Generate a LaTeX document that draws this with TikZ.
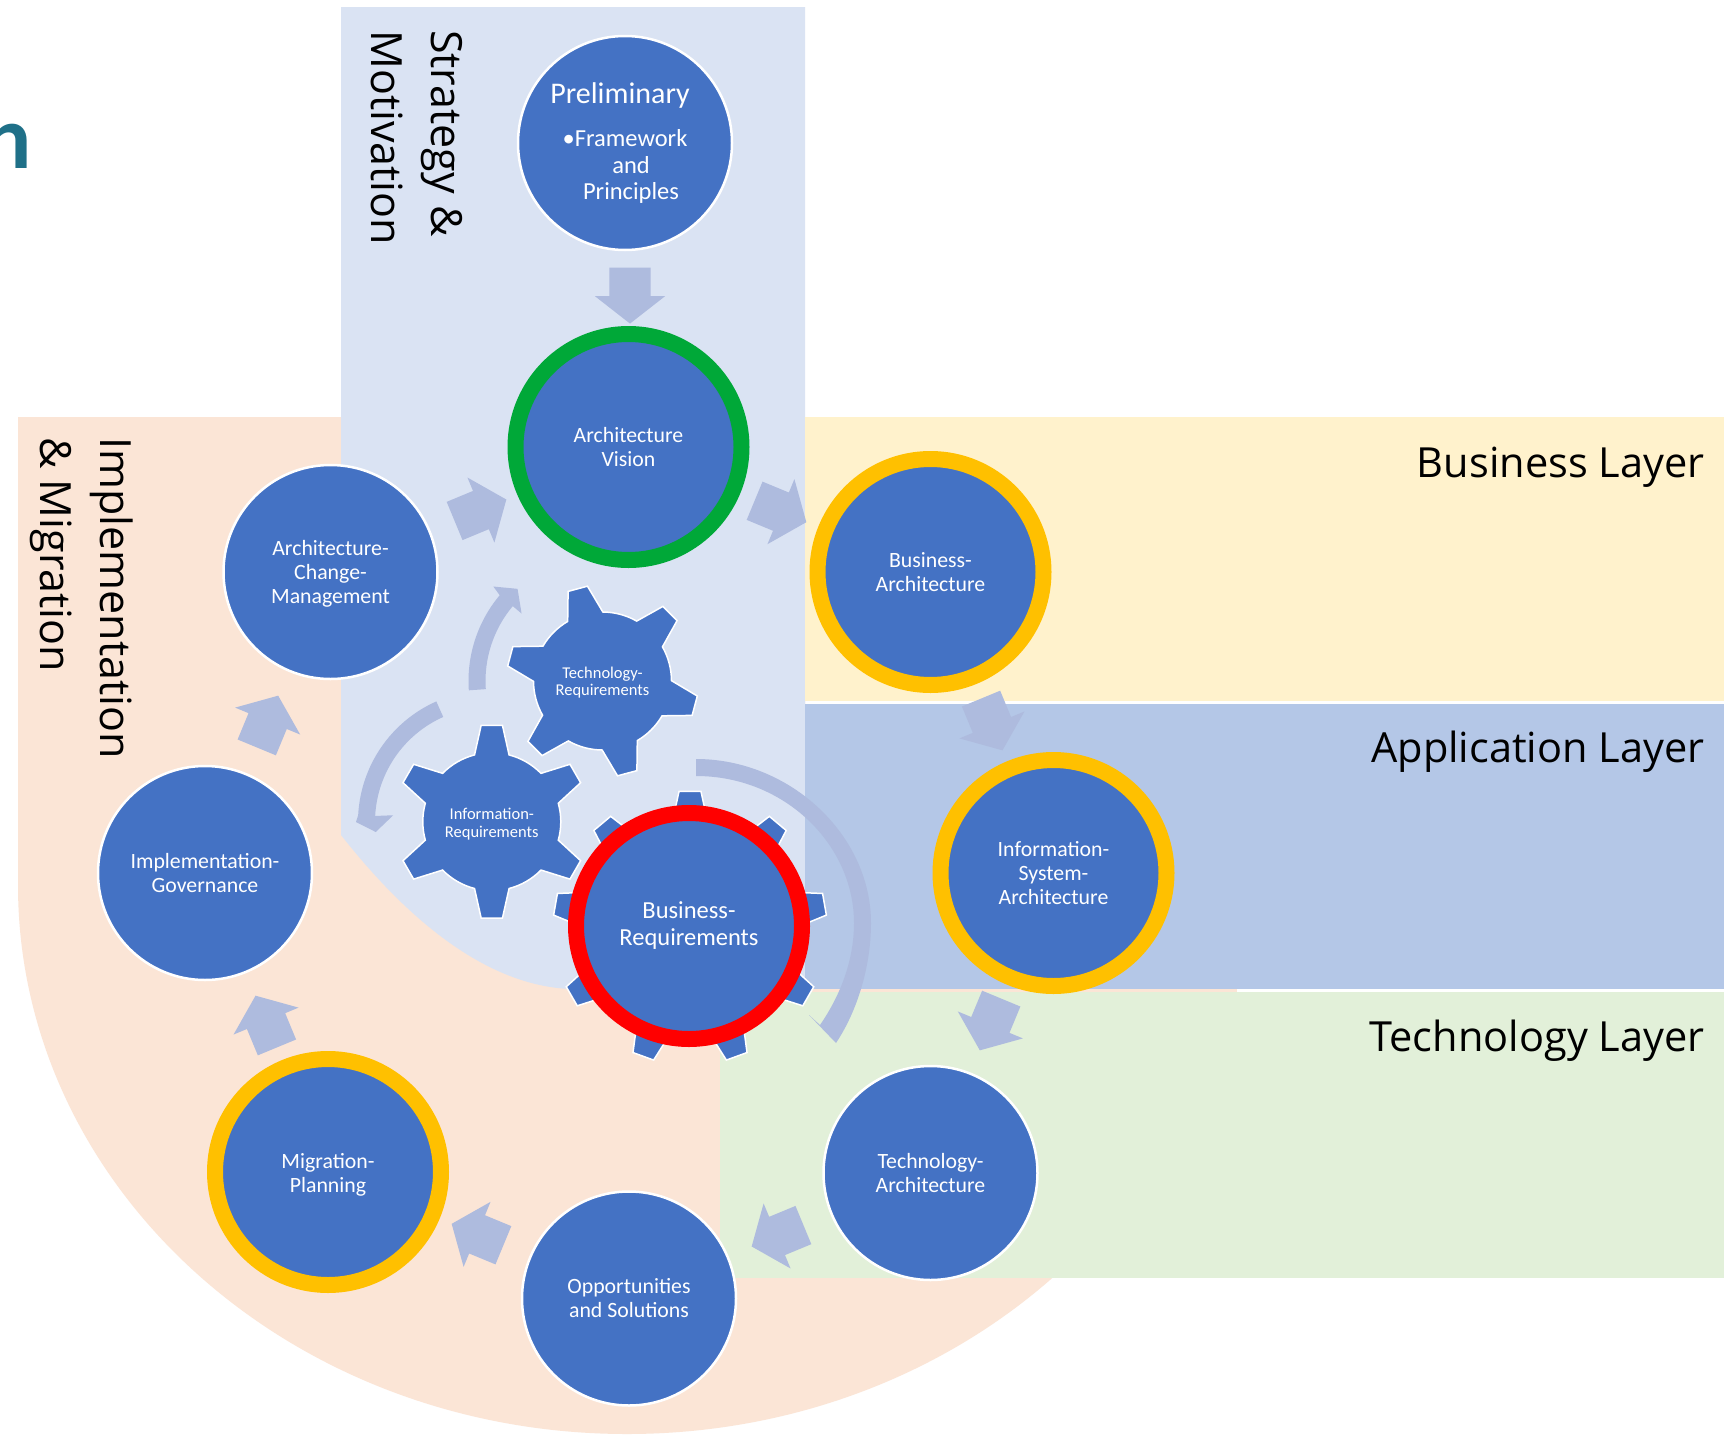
\documentclass[tikz,border=0pt]{standalone}
\usepackage{fontspec}
\setmainfont{Carlito}
\newfontfamily\labelfont{Open Sans}
\usetikzlibrary{shapes.arrows,shapes.geometric}
\definecolor{bluefill}{HTML}{4472C4}
\definecolor{arrowfill}{HTML}{AEBBDE}
\definecolor{stratfill}{HTML}{DAE3F3}
\definecolor{implfill}{HTML}{FBE5D6}
\definecolor{bizfill}{HTML}{FFF2CC}
\definecolor{appfill}{HTML}{B4C7E7}
\definecolor{techfill}{HTML}{E2F0D9}
\definecolor{ringgreen}{HTML}{00A838}
\definecolor{ringgold}{HTML}{FFC000}
\definecolor{ringred}{HTML}{FF0000}
\definecolor{teal}{HTML}{1F7088}
\tikzset{
  phase/.style={circle,fill=bluefill,draw=white,line width=2.5pt,minimum size=214pt,inner sep=0pt,
    text=white,align=center,font=\fontsize{21.8}{24}\selectfont},
  ringed/.style={phase,minimum size=226pt,line width=16pt,draw=#1},
  gearlabel/.style={text=white,align=center,font=\fontsize{16.5}{17.5}\selectfont},
  blockarrow/.style={single arrow,fill=arrowfill,draw=none,inner sep=0pt,minimum height=56pt,
    minimum width=70pt,single arrow head extend=14.5pt,single arrow head indent=0pt,single arrow tip angle=104,
    execute at begin node={\rule{0pt}{41pt}}},
  laytext/.style={anchor=east,font=\labelfont\fontsize{41.5}{48}\selectfont,text=black},
  sidetext/.style={rotate=-90,anchor=north west,align=left,inner sep=0pt,
    font=\labelfont\fontsize{43}{60}\selectfont,text=black},
  gearbody/.style={fill=bluefill,draw=white,line width=1.5pt,line join=miter},
  curvearrow/.style={fill=arrowfill,draw=none}
}
% #1 centre, #2 teeth, #3 first angle, #4 root radius, #5 tip radius, #6 base half angle, #7 tip half angle
\newcommand{\gearshape}[7]{%
  \pgfmathsetmacro{\gstep}{360/#2}%
  \pgfmathtruncatemacro{\glast}{#2-1}%
  \path[gearbody,shift={(#1)}] ({#3+#6}:#4)
    \foreach \gi in {0,...,\glast}{%
      -- ({#3-\gi*\gstep+#7}:#5) -- ({#3-\gi*\gstep-#7}:#5) -- ({#3-\gi*\gstep-#6}:#4)
      arc[start angle={#3-\gi*\gstep-#6},end angle={#3-(\gi+1)*\gstep+#6},radius=#4]
    } -- cycle;}
\begin{document}
\begin{tikzpicture}[x=1pt,y=1pt]
\useasboundingbox (0,0) rectangle (1724,-1440);
\fill[white] (0,0) rectangle (1724,-1440);
% backgrounds
\fill[implfill] (18,-417) -- (805,-417) -- (805,-885) -- (1236,-885)
  arc[start angle=0,end angle=-180,x radius=609,y radius=549] -- cycle;
\fill[implfill] (805,-985) rectangle (1237,-994);
\fill[stratfill] (341,-7) -- (805,-7) -- (805,-989) -- (570,-989)
  .. controls (480,-985) and (400,-910) .. (341,-835) -- cycle;
\fill[bizfill] (805,-417) rectangle (1724,-701);
\fill[appfill] (805,-704) rectangle (1724,-989);
\fill[techfill] (720,-992) rectangle (1724,-1278);
% clipped title letter
\node[anchor=base east,inner sep=0pt,text=teal,font=\bfseries\fontsize{90}{90}\selectfont] (titlen) at (32,-168) {n};
% labels
\node[laytext] (bizlabel) at (1708,-467) {Business Layer};
\node[laytext] (applabel) at (1708,-752) {Application Layer};
\node[laytext] (techlabel) at (1708,-1041) {Technology Layer};
\node[sidetext] (stratlabel) at (463,-30) {Strategy \&\\Motivation};
\node[sidetext] (impllabel) at (133,-437) {Implementation\\\& Migration};
% cycle arrows
\foreach \nm/\m in {a1/67.5,a2/22.5,a3/-22.5,a4/-67.5,a5/-112.5,a6/-157.5,a7/157.5,a8/112.5}{
  \node[blockarrow,rotate=\m-90] (\nm) at ([shift={(\m:392)},shift={(\m-90:-6.5)}]629,-873) {};
}
\node[blockarrow,rotate=-90] (a0) at (630,-287.5) {};
% curved arrows
\begin{scope}[shift={(602,-681)}]
\fill[curvearrow] (184:133.5) arc[start angle=184,end angle=140,radius=133.5] -- (139:144) -- (132.5:125)
  -- (140:105) -- (140:116.5) arc[start angle=140,end angle=184,radius=116.5] -- cycle;
\end{scope}
\begin{scope}[shift={(490,-822)}]
\fill[curvearrow] (114:132) arc[start angle=114,end angle=177,radius=132] -- (180:134) -- (185:114.7)
  -- (176:97) -- (177:115) arc[start angle=177,end angle=114,radius=115] -- cycle;
\end{scope}
\fill[curvearrow] (696,-759) .. controls (790,-759) and (871,-835) .. (871,-923)
  .. controls (871,-965) and (858,-1010) .. (836,-1043)
  -- (809,-1015) -- (820,-1025) .. controls (842,-993) and (854,-958) .. (854,-923)
  .. controls (854,-845) and (785,-776) .. (696,-776) -- cycle;
% gears
\gearshape{602.5,-681}{6}{105}{69}{96}{15.3}{6}
\gearshape{491.8,-821.7}{6}{90}{69}{97}{14.5}{6.3}
\gearshape{690,-928}{9}{90}{105}{137}{10}{4.6}
\node[gearlabel] (techgear) at (602.5,-682.5) {Technology-\\Requirements};
\node[gearlabel] (infogear) at (491.8,-824) {Information-\\Requirements};
% phases
\node[phase] (prelim) at (625,-143) {};
\node[text=white,align=center,inner sep=0pt,font=\fontsize{24.5}{26.5}\selectfont] (prelimtext) at (625,-143)
  {{\fontsize{30}{30}\selectfont\hspace*{-10pt}Preliminary}\\[17pt]•Framework\\\hspace*{12pt}and\\\hspace*{12pt}Principles};
\node[ringed=ringgreen] (vision) at (628.5,-447) {Architecture\\Vision};
\node[ringed=ringgold] (bizarch) at (930.5,-572) {Business-\\Architecture};
\node[ringed=ringgold] (infoarch) at (1053.5,-873) {Information-\\System-\\Architecture};
\node[phase] (techarch) at (930.5,-1173) {Technology-\\Architecture};
\node[phase] (oppsol) at (629,-1298.5) {Opportunities\\and Solutions};
\node[ringed=ringgold] (migr) at (328,-1172) {\rule{0pt}{21pt}Migration-\\Planning};
\node[phase] (implgov) at (205,-873) {Implementation-\\Governance};
\node[phase] (archchg) at (330.5,-572) {\rule{0pt}{19pt}Architecture-\\Change-\\Management};
\node[ringed=ringred,font=\fontsize{24.5}{27}\selectfont] (bizreq) at (689,-926) {Business-\\Requirements};
\end{tikzpicture}
\end{document}
